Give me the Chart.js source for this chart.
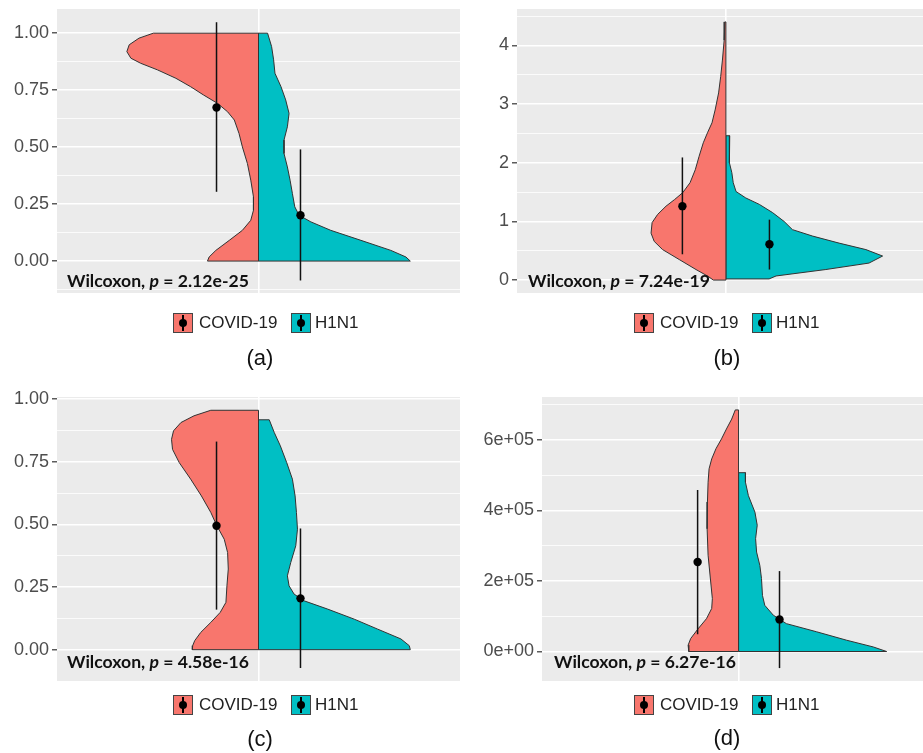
<!DOCTYPE html>
<html lang="en">
<head>
<meta charset="UTF-8">
<title>COVID-19 vs H1N1 violin plots</title>
<script src="https://cdn.jsdelivr.net/npm/chart.js"></script>
<style>
  body { margin: 0; background: #fff; width: 923px; height: 753px; overflow: hidden; position: relative;
         font-family: "Liberation Sans", Arial, sans-serif; }
  .panel { position: absolute; }
  .panel canvas { display: block; }
  .wil { position: absolute; font-family: Lato, "Open Sans", sans-serif; font-weight: bold; font-size: 17.6px;
         color: #111; white-space: nowrap; line-height: 20px; }
  .key { position: absolute; width: 18px; height: 18px; border: 1px solid #444; }
  .key .bar { position: absolute; left: 8px; top: 1px; width: 1.5px; height: 16px; background: #000; }
  .key .dot { position: absolute; left: 5px; top: 5px; width: 8px; height: 8px; border-radius: 50%; background: #000; }
  .lab { position: absolute; font-size: 17px; color: #222; line-height: 20px; white-space: nowrap; }
  .cap { position: absolute; font-size: 22px; color: #111; width: 60px; text-align: center; line-height: 26px; }
</style>
</head>
<body>
<script>
  // colours of the two groups
  const covidColor = '#F8766D';
  const h1n1Color = '#00BFC4';

  // (a) – half-violin outlines: y level and half width (x units, panel spans -0.6..0.6)
  const covidYA = [1.0, 0.978, 0.949, 0.919, 0.89, 0.868, 0.839, 0.802, 0.765, 0.729, 0.692, 0.655, 0.619, 0.56, 0.501, 0.428, 0.355, 0.282, 0.223, 0.179, 0.135, 0.091, 0.047, 0.018, 0.0];
  const covidWA = [0.313, 0.356, 0.385, 0.392, 0.380, 0.351, 0.301, 0.246, 0.202, 0.164, 0.122, 0.092, 0.072, 0.058, 0.048, 0.033, 0.023, 0.015, 0.015, 0.023, 0.048, 0.087, 0.127, 0.147, 0.152];
  const h1n1YA = [1.0, 0.941, 0.883, 0.824, 0.765, 0.707, 0.648, 0.589, 0.531, 0.472, 0.413, 0.355, 0.296, 0.238, 0.201, 0.172, 0.135, 0.091, 0.047, 0.018, 0.0];
  const h1n1WA = [0.027, 0.039, 0.045, 0.049, 0.067, 0.081, 0.091, 0.086, 0.076, 0.076, 0.086, 0.094, 0.101, 0.108, 0.121, 0.156, 0.215, 0.305, 0.394, 0.439, 0.452];
  // mean, lower, upper
  const covidStatA = [0.674, 0.304, 1.048];
  const h1n1StatA = [0.201, -0.085, 0.49];

  // (b)
  const covidYB = [4.40, 4.09, 3.75, 3.47, 3.19, 2.90, 2.68, 2.51, 2.34, 2.11, 1.88, 1.66, 1.49, 1.37, 1.26, 1.12, 0.98, 0.80, 0.66, 0.52, 0.35, 0.18, 0.07, 0.0];
  const covidWB = [0.003, 0.005, 0.010, 0.015, 0.021, 0.031, 0.040, 0.053, 0.065, 0.077, 0.088, 0.103, 0.124, 0.148, 0.172, 0.196, 0.212, 0.215, 0.206, 0.182, 0.134, 0.086, 0.053, 0.036];
  const h1n1YB = [2.46, 2.17, 2.0, 1.83, 1.66, 1.51, 1.40, 1.29, 1.15, 1.00, 0.86, 0.75, 0.63, 0.52, 0.41, 0.29, 0.18, 0.07, 0.02];
  const h1n1WB = [0.011, 0.010, 0.010, 0.017, 0.021, 0.029, 0.057, 0.096, 0.134, 0.167, 0.191, 0.249, 0.325, 0.402, 0.450, 0.411, 0.287, 0.144, 0.124];
  const covidStatB = [1.26, 0.44, 2.09];
  const h1n1StatB = [0.61, 0.18, 1.03];

  // (c)
  const covidYC = [0.956, 0.934, 0.907, 0.874, 0.84, 0.80, 0.747, 0.681, 0.614, 0.548, 0.495, 0.441, 0.388, 0.322, 0.255, 0.189, 0.149, 0.109, 0.069, 0.036, 0.016, 0.0];
  const covidWC = [0.142, 0.192, 0.231, 0.253, 0.259, 0.256, 0.236, 0.202, 0.170, 0.142, 0.124, 0.102, 0.092, 0.090, 0.094, 0.097, 0.114, 0.142, 0.172, 0.190, 0.196, 0.197];
  const h1n1YC = [0.918, 0.867, 0.814, 0.747, 0.681, 0.614, 0.548, 0.481, 0.415, 0.348, 0.295, 0.255, 0.222, 0.195, 0.162, 0.122, 0.082, 0.043, 0.016, 0.0];
  const h1n1WC = [0.032, 0.047, 0.065, 0.084, 0.101, 0.109, 0.113, 0.116, 0.111, 0.096, 0.086, 0.091, 0.106, 0.136, 0.206, 0.285, 0.355, 0.424, 0.449, 0.452];
  const covidStatC = [0.495, 0.16, 0.831];
  const h1n1StatC = [0.205, -0.073, 0.484];

  // (d)
  const covidYD = [685000, 659000, 631000, 603000, 575000, 546000, 518000, 480000, 424000, 348000, 273000, 197000, 150000, 122000, 93000, 65000, 37000, 18000, 0];
  const covidWD = [0.010, 0.021, 0.037, 0.052, 0.069, 0.082, 0.090, 0.093, 0.095, 0.096, 0.093, 0.085, 0.080, 0.082, 0.098, 0.123, 0.146, 0.154, 0.152];
  const h1n1YD = [507000, 480000, 442000, 395000, 358000, 320000, 282000, 244000, 207000, 159000, 131000, 103000, 79000, 56000, 32000, 13000, 0];
  const h1n1WD = [0.021, 0.021, 0.030, 0.050, 0.057, 0.052, 0.055, 0.065, 0.070, 0.073, 0.080, 0.106, 0.146, 0.238, 0.330, 0.411, 0.452];
  const covidStatD = [254000, 49000, 458000];
  const h1n1StatD = [91000, -47000, 228000];

  // y axis ticks
  const majorA = [0, 0.25, 0.5, 0.75, 1];
  const labelsA = ['0.00', '0.25', '0.50', '0.75', '1.00'];
  const minorA = [-0.125, 0.125, 0.375, 0.625, 0.875];
  const majorB = [0, 1, 2, 3, 4];
  const labelsB = ['0', '1', '2', '3', '4'];
  const minorB = [0.5, 1.5, 2.5, 3.5, 4.5];
  const majorD = [0, 200000, 400000, 600000];
  const labelsD = ['0e+00', '2e+05', '4e+05', '6e+05'];
  const minorD = [100000, 300000, 500000, 700000];

  const dodge = 0.125; // error bar offset from centre
  const groups = ['COVID-19', 'H1N1'];
  const pValues = ['2.12e-25', '7.24e-19', '4.58e-16', '6.27e-16'];
  const captions = ['(a)', '(b)', '(c)', '(d)'];

  // right-hand panels run past the picture edge, so their x range is cut
  const panels = [
    { left: 0, top: 0, w: 462, h: 300, pad: { top: 9, right: 2, bottom: 7, left: 0 }, axisW: 57, xMax: 0.6, min: -0.14, max: 1.106,
      cy: covidYA, cw: covidWA, hy: h1n1YA, hw: h1n1WA, cs: covidStatA, hs: h1n1StatA, major: majorA, labels: labelsA, minor: minorA,
      wil: [67, 271], legend: [173, 313], cap: [230, 345] },
    { left: 462, top: 0, w: 461, h: 300, pad: { top: 9, right: 0, bottom: 7, left: 0 }, axisW: 55, xMax: 0.566, min: -0.22, max: 4.62,
      cy: covidYB, cw: covidWB, hy: h1n1YB, hw: h1n1WB, cs: covidStatB, hs: h1n1StatB, major: majorB, labels: labelsB, minor: minorB,
      wil: [528, 271], legend: [634, 313], cap: [697, 345] },
    { left: 0, top: 390, w: 462, h: 300, pad: { top: 7, right: 2, bottom: 9, left: 0 }, axisW: 57, xMax: 0.6, min: -0.125, max: 1.009,
      cy: covidYC, cw: covidWC, hy: h1n1YC, hw: h1n1WC, cs: covidStatC, hs: h1n1StatC, major: majorA, labels: labelsA, minor: minorA,
      wil: [67, 652], legend: [173, 695], cap: [230, 726] },
    { left: 462, top: 390, w: 461, h: 300, pad: { top: 7, right: 0, bottom: 9, left: 0 }, axisW: 80, xMax: 0.563, min: -83600, max: 721600,
      cy: covidYD, cw: covidWD, hy: h1n1YD, hw: h1n1WD, cs: covidStatD, hs: h1n1StatD, major: majorD, labels: labelsD, minor: minorD,
      wil: [554, 652], legend: [634, 695], cap: [697, 725] }
  ];

  // grey panel background like ggplot
  const panelBg = {
    id: 'panelBg',
    beforeDraw(chart) {
      const { ctx, chartArea: a } = chart;
      ctx.save();
      ctx.fillStyle = '#EBEBEB';
      ctx.fillRect(a.left, a.top, a.right - a.left, a.bottom - a.top);
      ctx.restore();
    }
  };

  // closed outline of one half violin, side = -1 (left) or 1 (right)
  function halfViolin(ys, ws, side) {
    const pts = [{ x: 0, y: ys[0] }];
    ys.forEach((y, i) => pts.push({ x: side * ws[i], y: y }));
    pts.push({ x: 0, y: ys[ys.length - 1] });
    pts.push({ x: 0, y: ys[0] });
    return pts;
  }

  function makeChart(p, idx) {
    const wrap = document.createElement('div');
    wrap.className = 'panel';
    wrap.style.left = p.left + 'px';
    wrap.style.top = p.top + 'px';
    wrap.style.width = p.w + 'px';
    wrap.style.height = p.h + 'px';
    const canvas = document.createElement('canvas');
    canvas.width = p.w;
    canvas.height = p.h;
    wrap.appendChild(canvas);
    document.body.appendChild(wrap);

    const yTicks = p.major.map((v, i) => ({ value: v, isMajor: true, text: p.labels[i] }))
      .concat(p.minor.map(v => ({ value: v, isMajor: false, text: '' })))
      .sort((a, b) => a.value - b.value);

    const violinStyle = { showLine: true, fill: 'shape', pointRadius: 0, borderColor: '#333333', borderWidth: 1, tension: 0, order: 3 };
    const barStyle = { showLine: true, pointRadius: 0, borderColor: '#111111', borderWidth: 1.5, order: 2 };
    const dotStyle = { pointRadius: 4.2, backgroundColor: '#000', borderColor: '#000', borderWidth: 0, order: 1 };

    new Chart(canvas, {
      type: 'scatter',
      data: {
        datasets: [
          Object.assign({ label: groups[0], data: halfViolin(p.cy, p.cw, -1), backgroundColor: covidColor }, violinStyle),
          Object.assign({ label: groups[1], data: halfViolin(p.hy, p.hw, 1), backgroundColor: h1n1Color }, violinStyle),
          Object.assign({ data: [{ x: -dodge, y: p.cs[1] }, { x: -dodge, y: p.cs[2] }] }, barStyle),
          Object.assign({ data: [{ x: dodge, y: p.hs[1] }, { x: dodge, y: p.hs[2] }] }, barStyle),
          Object.assign({ data: [{ x: -dodge, y: p.cs[0] }, { x: dodge, y: p.hs[0] }] }, dotStyle)
        ]
      },
      options: {
        responsive: false,
        animation: false,
        events: [],
        layout: { padding: p.pad, autoPadding: false },
        plugins: { legend: { display: false }, tooltip: { enabled: false } },
        scales: {
          x: {
            type: 'linear', min: -0.6, max: p.xMax,
            afterBuildTicks: s => { s.ticks = [{ value: 0 }]; },
            afterFit: s => { s.height = 0; s.paddingLeft = 0; s.paddingRight = 0; },
            ticks: { display: false },
            grid: { color: '#FFFFFF', lineWidth: 1.6, drawTicks: false },
            border: { display: false }
          },
          y: {
            type: 'linear', min: p.min, max: p.max,
            afterBuildTicks: s => { s.ticks = yTicks.map(t => Object.assign({}, t)); },
            afterFit: s => { s.width = p.axisW; s.paddingTop = 0; s.paddingBottom = 0; },
            ticks: {
              autoSkip: false, padding: 3, color: '#4D4D4D',
              font: { family: '"Liberation Sans", Arial, sans-serif', size: 18 },
              callback: (v, i, ticks) => ticks[i].text
            },
            grid: {
              color: '#FFFFFF',
              lineWidth: c => (c.tick && c.tick.isMajor ? 1.6 : 0.8),
              tickColor: c => (c.tick && c.tick.isMajor ? '#333333' : 'rgba(0,0,0,0)'),
              tickLength: 5, tickWidth: 1.2
            },
            border: { display: false }
          }
        }
      },
      plugins: [panelBg]
    });

    // annotation, legend and caption as page text
    const wil = document.createElement('div');
    wil.className = 'wil';
    wil.style.left = p.wil[0] + 'px';
    wil.style.top = p.wil[1] + 'px';
    wil.innerHTML = 'Wilcoxon, <i>p</i> = ' + pValues[idx];
    document.body.appendChild(wil);

    const colors = [covidColor, h1n1Color];
    const keyX = [0, 118];
    const labX = [26, 142];
    groups.forEach((g, k) => {
      const key = document.createElement('div');
      key.className = 'key';
      key.style.left = (p.legend[0] + keyX[k]) + 'px';
      key.style.top = p.legend[1] + 'px';
      key.style.background = colors[k];
      key.innerHTML = '<div class="bar"></div><div class="dot"></div>';
      document.body.appendChild(key);
      const lab = document.createElement('div');
      lab.className = 'lab';
      lab.style.left = (p.legend[0] + labX[k]) + 'px';
      lab.style.top = p.legend[1] + 'px';
      lab.textContent = g;
      document.body.appendChild(lab);
    });

    const cap = document.createElement('div');
    cap.className = 'cap';
    cap.style.left = p.cap[0] + 'px';
    cap.style.top = p.cap[1] + 'px';
    cap.textContent = captions[idx];
    document.body.appendChild(cap);
  }

  panels.forEach(makeChart);
</script>
</body>
</html>
